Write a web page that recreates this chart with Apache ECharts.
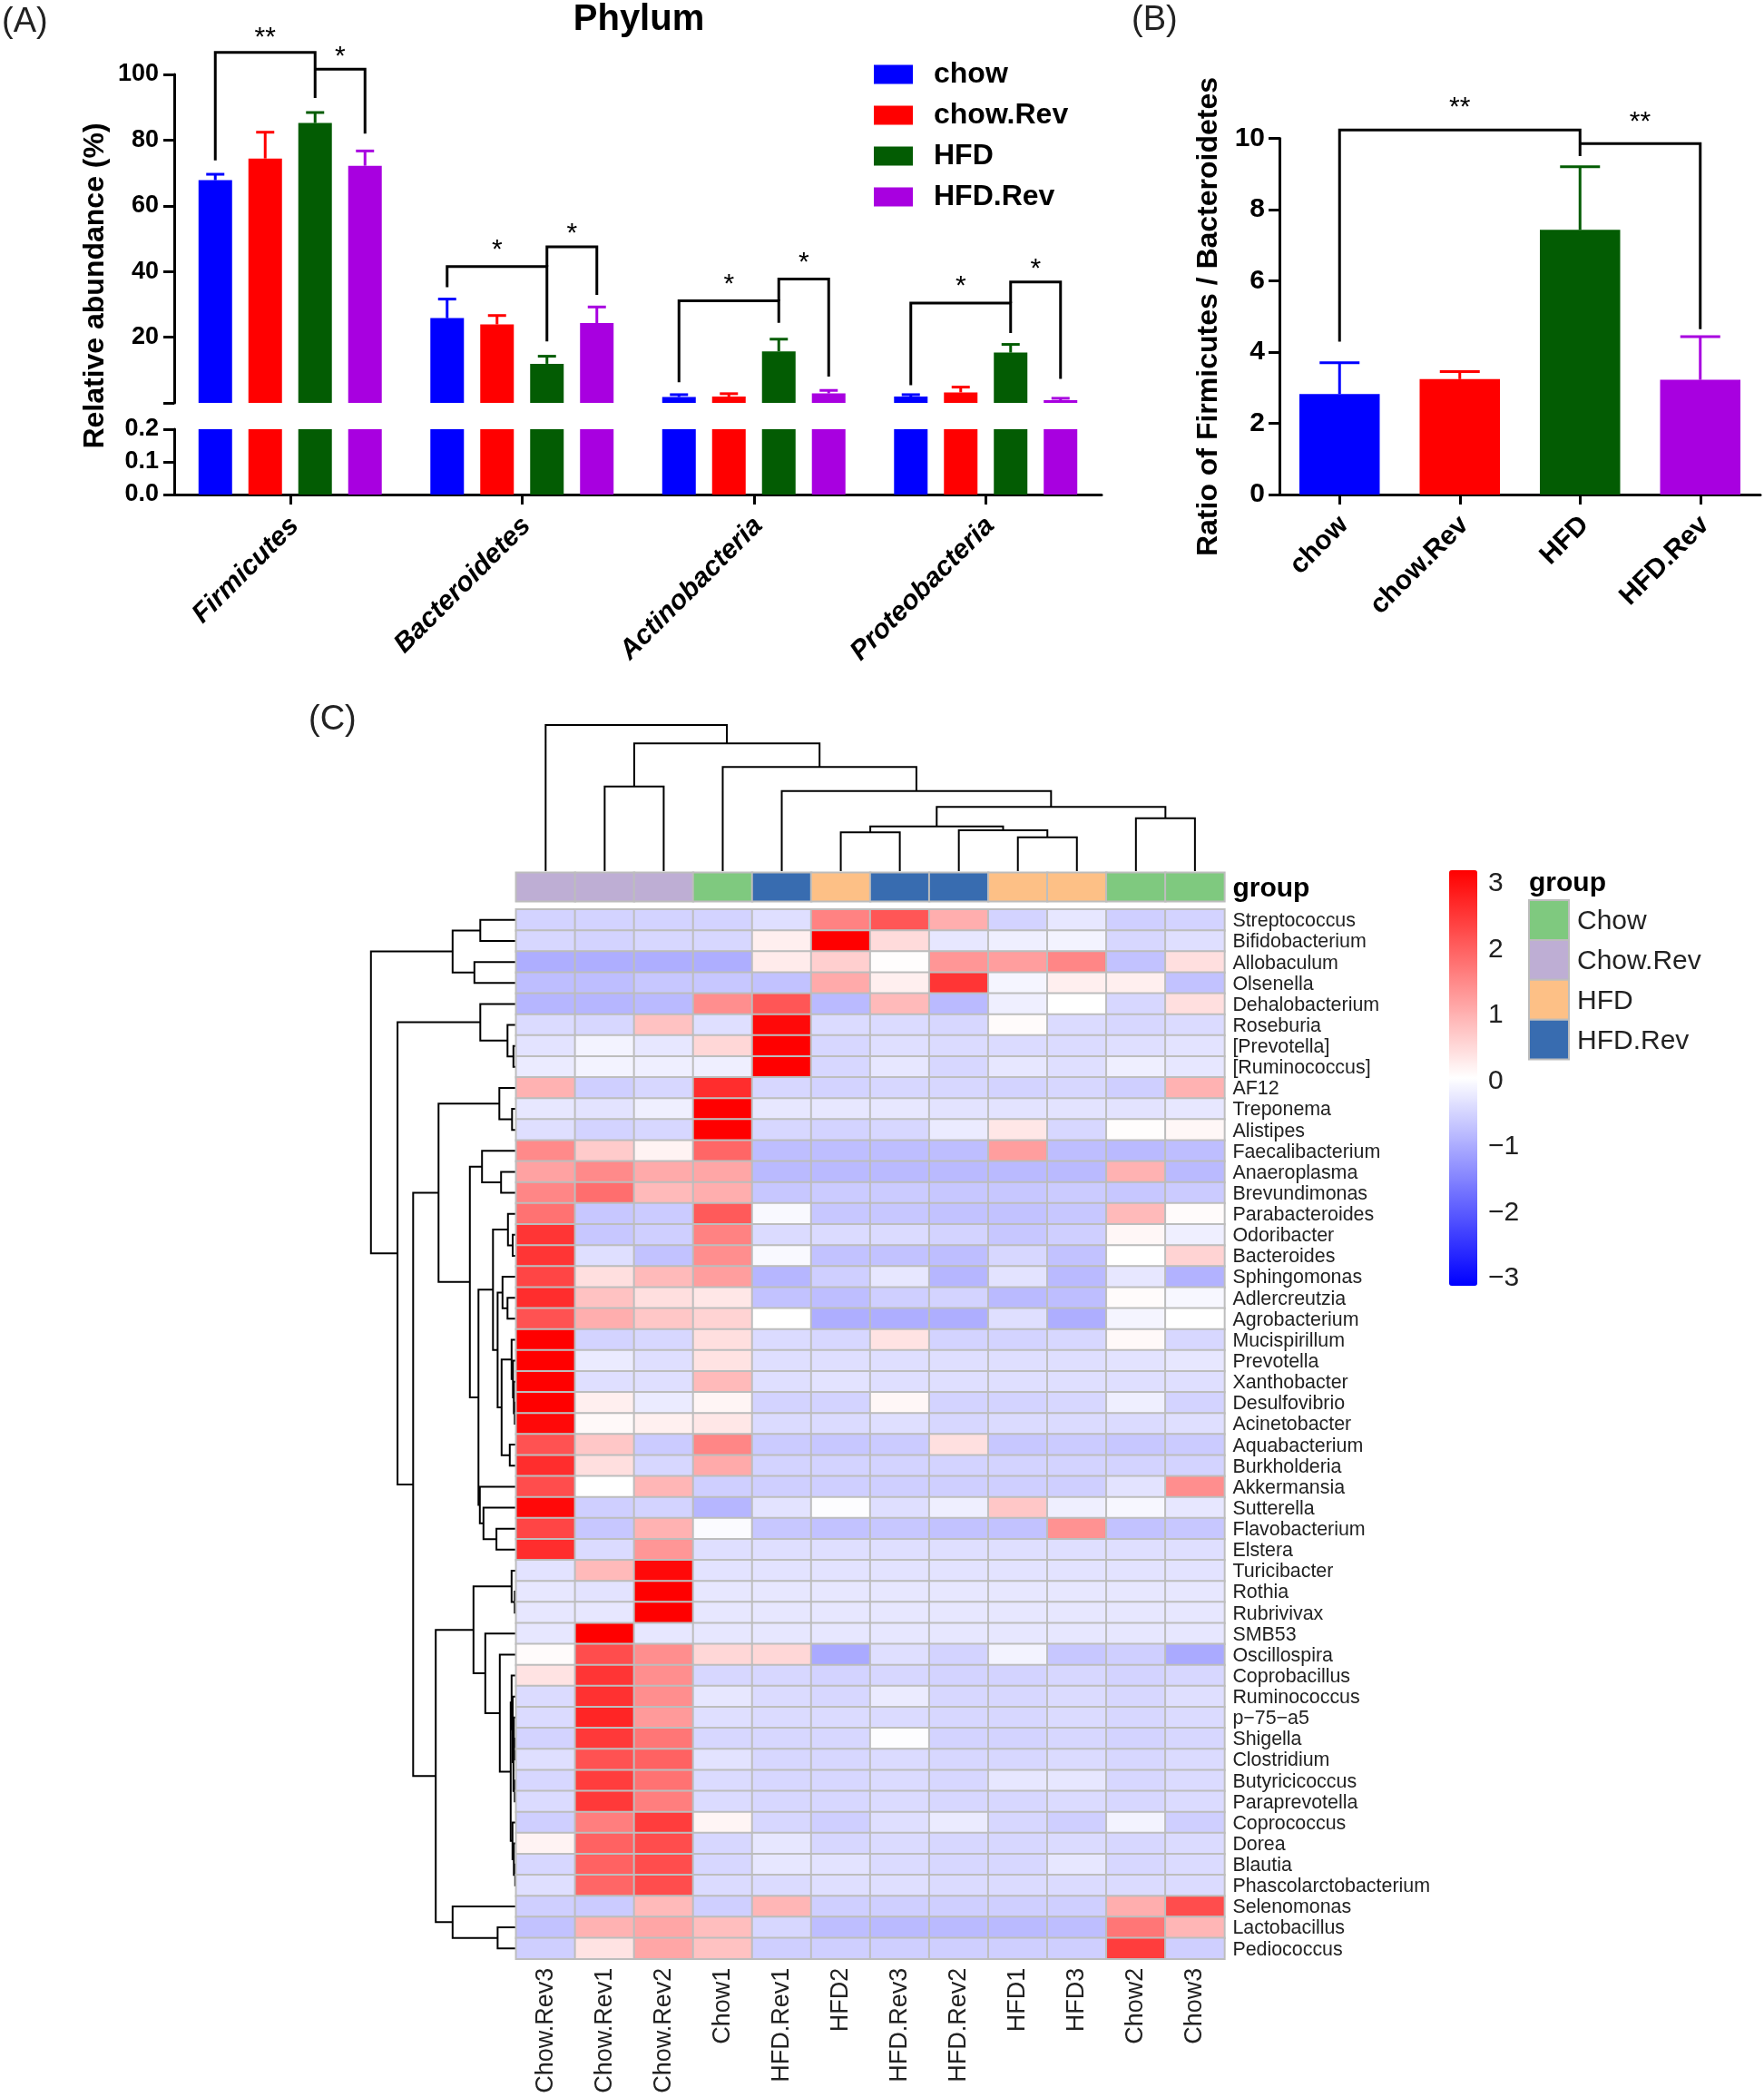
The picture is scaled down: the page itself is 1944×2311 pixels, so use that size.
<!DOCTYPE html>
<html>
<head>
<meta charset="utf-8">
<style>
  html, body { margin: 0; background: #fff; }
  #chart { width: 1944px; height: 2311px; }
</style>
</head>
<body>
<div id="chart"></div>
<script src="https://cdn.jsdelivr.net/npm/echarts@6/dist/echarts.min.js"></script>
<script>
// panel A
const phyla = ['Firmicutes', 'Bacteroidetes', 'Actinobacteria', 'Proteobacteria']
const dietGroups = ['chow', 'chow.Rev', 'HFD', 'HFD.Rev']
const dietColors = ['#0000ff', '#ff0000', '#035c03', '#a800e0']
const chowMean = [67.8, 25.8, 1.8, 1.9]
const chowErr = [69.6, 31.6, 2.5, 2.5]
const chowRevMean = [74.4, 23.9, 1.9, 3.2]
const chowRevErr = [82.4, 26.6, 2.8, 4.8]
const hfdMean = [85.2, 11.9, 15.7, 15.3]
const hfdErr = [88.4, 14.2, 19.4, 17.8]
const hfdRevMean = [72.2, 24.3, 2.9, 0.8]
const hfdRevErr = [76.7, 29.2, 3.8, 1.4]
// cat, left bar, right bar, left end, right end, top, stars, stars y
const bracketsA = [
  [0, 0, 2, 73.8, 92.8, 106.7, '**', 112.4],
  [0, 2, 3, 101.6, 82, 101.6, '*', 106.7],
  [1, 0, 2, 35.2, 18.7, 41.5, '*', 47.8],
  [1, 2, 3, 41.5, 32.9, 47.5, '*', 52.9],
  [2, 0, 2, 6.3, 24.4, 31.1, '*', 37.5],
  [2, 2, 3, 31.1, 8, 37.7, '*', 44],
  [3, 0, 2, 5.4, 21.3, 30.4, '*', 36.7],
  [3, 2, 3, 30.4, 7.3, 36.8, '*', 42.2]
]

// panel B
const ratioMean = [2.82, 3.24, 7.43, 3.22]
const ratioErr = [3.7, 3.45, 9.2, 4.43]
const bracketsB = [
  [0, 0, 2, 4.29, 9.5, 10.23, '**', 10.95],
  [0, 2, 3, 9.85, 4.64, 9.85, '**', 10.56]
]

// panel C
const samples = ['Chow.Rev3', 'Chow.Rev1', 'Chow.Rev2', 'Chow1', 'HFD.Rev1', 'HFD2', 'HFD.Rev3', 'HFD.Rev2', 'HFD1', 'HFD3', 'Chow2', 'Chow3']
const sampleGroups = ['Chow.Rev', 'Chow.Rev', 'Chow.Rev', 'Chow', 'HFD.Rev', 'HFD', 'HFD.Rev', 'HFD.Rev', 'HFD', 'HFD', 'Chow', 'Chow']
const groupNames = ['Chow', 'Chow.Rev', 'HFD', 'HFD.Rev']
const groupColors = ['#7fc97f', '#beaed4', '#fdc086', '#386cb0']
const colorbarTicks = [-3, -2, -1, 0, 1, 2, 3]
const genera = ['Streptococcus', 'Bifidobacterium', 'Allobaculum', 'Olsenella', 'Dehalobacterium', 'Roseburia', '[Prevotella]', '[Ruminococcus]', 'AF12', 'Treponema', 'Alistipes', 'Faecalibacterium', 'Anaeroplasma', 'Brevundimonas', 'Parabacteroides', 'Odoribacter', 'Bacteroides', 'Sphingomonas', 'Adlercreutzia', 'Agrobacterium', 'Mucispirillum', 'Prevotella', 'Xanthobacter', 'Desulfovibrio', 'Acinetobacter', 'Aquabacterium', 'Burkholderia', 'Akkermansia', 'Sutterella', 'Flavobacterium', 'Elstera', 'Turicibacter', 'Rothia', 'Rubrivivax', 'SMB53', 'Oscillospira', 'Coprobacillus', 'Ruminococcus', 'p\u221275\u2212a5', 'Shigella', 'Clostridium', 'Butyricicoccus', 'Paraprevotella', 'Coprococcus', 'Dorea', 'Blautia', 'Phascolarctobacterium', 'Selenomonas', 'Lactobacillus', 'Pediococcus']
const heatRows = [
  [-0.55, -0.55, -0.55, -0.55, -0.4, 1.55, 2.1, 1.0, -0.55, -0.3, -0.6, -0.55],
  [-0.5, -0.55, -0.5, -0.5, 0.2, 3.16, 0.45, -0.3, -0.2, -0.15, -0.5, -0.4],
  [-1.0, -1.0, -1.0, -1.0, 0.25, 0.6, 0.02, 1.3, 1.2, 1.5, -0.75, 0.4],
  [-0.8, -0.8, -0.7, -0.7, -0.75, 1.05, 0.2, 2.5, -0.12, 0.2, 0.2, -0.75],
  [-0.9, -0.9, -0.85, 1.4, 2.1, -0.85, 0.85, -0.85, -0.2, 0.0, -0.5, 0.4],
  [-0.45, -0.5, 0.75, -0.4, 3.05, -0.45, -0.45, -0.5, 0.05, -0.45, -0.5, -0.45],
  [-0.35, -0.15, -0.3, 0.5, 3.16, -0.5, -0.4, -0.45, -0.45, -0.45, -0.4, -0.35],
  [-0.25, -0.15, -0.2, -0.2, 3.16, -0.5, -0.3, -0.5, -0.3, -0.4, -0.2, -0.3],
  [0.95, -0.6, -0.5, 2.6, -0.5, -0.55, -0.5, -0.5, -0.55, -0.5, -0.6, 0.95],
  [-0.3, -0.35, -0.2, 3.16, -0.3, -0.3, -0.3, -0.35, -0.35, -0.35, -0.35, -0.3],
  [-0.4, -0.55, -0.5, 3.16, -0.5, -0.55, -0.5, -0.25, 0.3, -0.5, 0.03, 0.1],
  [1.45, 0.65, 0.15, 1.9, -0.8, -0.8, -0.8, -0.8, 1.2, -0.8, -0.85, -0.8],
  [1.15, 1.45, 1.05, 1.1, -0.85, -0.85, -0.85, -0.85, -0.85, -0.85, 0.95, -0.85],
  [1.5, 1.8, 0.85, 1.0, -0.7, -0.65, -0.65, -0.7, -0.7, -0.65, -0.7, -0.65],
  [1.75, -0.7, -0.65, 2.05, -0.08, -0.7, -0.7, -0.75, -0.75, -0.7, 0.85, 0.05],
  [2.5, -0.7, -0.6, 1.55, -0.45, -0.45, -0.45, -0.55, -0.7, -0.6, 0.1, -0.2],
  [2.5, -0.4, -0.75, 1.4, -0.08, -0.75, -0.75, -0.8, -0.5, -0.75, 0.0, 0.55],
  [2.3, 0.4, 0.85, 1.2, -0.9, -0.6, -0.3, -0.9, -0.35, -0.85, -0.3, -0.95],
  [2.6, 0.75, 0.4, 0.3, -0.75, -0.8, -0.6, -0.55, -0.85, -0.8, 0.05, -0.1],
  [2.15, 1.0, 0.7, 0.55, 0.0, -1.0, -1.0, -1.0, -0.4, -1.0, -0.12, 0.0],
  [3.16, -0.55, -0.5, 0.4, -0.45, -0.5, 0.35, -0.55, -0.55, -0.5, 0.08, -0.5],
  [3.16, -0.25, -0.4, 0.35, -0.4, -0.4, -0.4, -0.4, -0.4, -0.4, -0.35, -0.3],
  [3.16, -0.4, -0.4, 0.85, -0.4, -0.35, -0.4, -0.4, -0.4, -0.4, -0.4, -0.4],
  [3.16, 0.2, -0.25, 0.12, -0.55, -0.55, 0.1, -0.55, -0.55, -0.5, -0.2, -0.55],
  [3.05, 0.08, 0.18, 0.3, -0.45, -0.45, -0.4, -0.5, -0.45, -0.45, -0.45, -0.4],
  [2.15, 0.7, -0.65, 1.5, -0.65, -0.7, -0.65, 0.38, -0.7, -0.65, -0.7, -0.65],
  [2.6, 0.4, -0.5, 1.05, -0.55, -0.55, -0.55, -0.55, -0.55, -0.55, -0.55, -0.55],
  [2.2, 0.0, 0.9, -0.6, -0.6, -0.6, -0.6, -0.6, -0.6, -0.6, -0.35, 1.4],
  [3.05, -0.6, -0.55, -0.9, -0.35, -0.03, -0.4, -0.2, 0.7, -0.2, -0.1, -0.3],
  [2.3, -0.7, 0.95, -0.05, -0.7, -0.75, -0.7, -0.75, -0.75, 1.35, -0.75, -0.7],
  [2.6, -0.45, 1.3, -0.4, -0.4, -0.4, -0.4, -0.4, -0.4, -0.4, -0.4, -0.4],
  [-0.35, 0.85, 3.05, -0.35, -0.35, -0.35, -0.35, -0.35, -0.35, -0.35, -0.35, -0.35],
  [-0.3, -0.35, 3.16, -0.3, -0.3, -0.3, -0.3, -0.3, -0.3, -0.3, -0.3, -0.3],
  [-0.3, -0.3, 3.16, -0.3, -0.3, -0.3, -0.3, -0.3, -0.3, -0.3, -0.3, -0.3],
  [-0.3, 3.16, -0.3, -0.3, -0.3, -0.3, -0.3, -0.3, -0.3, -0.3, -0.3, -0.3],
  [0.05, 2.2, 1.4, 0.5, 0.5, -1.05, -0.4, -0.55, -0.15, -0.7, -0.6, -1.05],
  [0.35, 2.5, 1.4, -0.5, -0.5, -0.55, -0.5, -0.55, -0.55, -0.5, -0.55, -0.5],
  [-0.45, 2.55, 1.4, -0.3, -0.45, -0.5, -0.25, -0.5, -0.5, -0.45, -0.5, -0.4],
  [-0.45, 2.7, 1.25, -0.4, -0.45, -0.45, -0.45, -0.5, -0.5, -0.45, -0.5, -0.45],
  [-0.55, 2.45, 1.7, -0.5, -0.5, -0.5, -0.02, -0.55, -0.55, -0.5, -0.55, -0.5],
  [-0.4, 2.15, 1.95, -0.35, -0.5, -0.5, -0.45, -0.5, -0.5, -0.45, -0.5, -0.45],
  [-0.5, 2.4, 1.75, -0.45, -0.5, -0.5, -0.45, -0.5, -0.3, -0.3, -0.5, -0.45],
  [-0.45, 2.45, 1.6, -0.45, -0.5, -0.5, -0.45, -0.5, -0.5, -0.45, -0.5, -0.45],
  [-0.6, 1.6, 2.4, 0.12, -0.5, -0.6, -0.4, -0.25, -0.5, -0.6, -0.15, -0.6],
  [0.15, 1.95, 2.2, -0.5, -0.3, -0.5, -0.45, -0.5, -0.5, -0.45, -0.5, -0.45],
  [-0.5, 1.95, 2.2, -0.5, -0.3, -0.35, -0.45, -0.5, -0.5, -0.3, -0.5, -0.45],
  [-0.4, 1.9, 2.2, -0.45, -0.45, -0.4, -0.4, -0.45, -0.45, -0.45, -0.45, -0.45],
  [-0.6, -0.65, 0.85, -0.6, 0.9, -0.6, -0.6, -0.6, -0.6, -0.6, 1.0, 2.2],
  [-0.75, 0.95, 1.1, 0.8, -0.5, -0.8, -0.85, -0.85, -0.85, -0.8, 1.7, 0.9],
  [-0.6, 0.35, 1.1, 0.75, -0.6, -0.6, -0.6, -0.6, -0.6, -0.6, 2.4, -0.6]
]
// dendrograms: a node is a leaf index or [left, right, height]
const sampleTree = [
  0,
  [
    [1, 2, 93.3],
    [3, [4, [[[5, 6, 42.7], [7, [8, 9, 37.3], 45], 49.3], [10, 11, 58.3], 70.7], 88.3], 114.7],
    140.7
  ],
  161
]
const generaTree = [
  [[0, 1, 39.5], [2, 3, 46], 70],
  [
    [4, [5, [6, 7, 3], 9.5], 39.5],
    [
      [[8, [9, 10, 4.5], 18.5], [
        [11, [12, 13, 16.6], 37.6],
        [
          [
            [14, [15, 16, 3.8], 9],
            [
              [17, [18, 19, 9.5], 15],
              [[20, [21, [22, [23, 24, 1.5], 2.5], 3.5], 5], [25, 26, 7], 16],
              20.4
            ],
            25.5
          ],
          [27, [28, [29, 30, 21.7], 36], 40],
          41.5
        ],
        51
      ], 85.5],
      [
        [[31, [32, 33, 1.5], 5], [34, [35, [
          [36, [37, [[38, [39, 40, 1.5], 2.5], [41, 42, 1.5], 3], 3.8], 5],
          [43, [44, [45, 46, 1], 2.5], 4],
          6
        ], 18], 34], 47],
        [47, [48, 49, 20.4], 70],
        88.6
      ],
      113.5
    ],
    130.7
  ],
  160
]

const labelFont = '"Liberation Sans", Arial, sans-serif'
const barStep = 55

function flattenTree(node, rows) {
  if (typeof node === 'number') {
    return { pos: node, h: 0 }
  }
  const l = flattenTree(node[0], rows)
  const r = flattenTree(node[1], rows)
  rows.push([l.pos, l.h, r.pos, r.h, node[2]])
  return { pos: (l.pos + r.pos) / 2, h: node[2] }
}

function dendroSeries(tree, axisIndex, vertical) {
  const rows = []
  flattenTree(tree, rows)
  return {
    type: 'custom',
    xAxisIndex: axisIndex,
    yAxisIndex: axisIndex,
    silent: true,
    data: rows,
    renderItem(params, api) {
      const p = vertical ? (a, h) => api.coord([a, h]) : (a, h) => api.coord([h, a])
      const a = api.value(0)
      const b = api.value(2)
      const h = api.value(4)
      return {
        type: 'polyline',
        shape: { points: [p(a, api.value(1)), p(a, h), p(b, h), p(b, api.value(3))] },
        style: { stroke: '#000', lineWidth: 2, fill: null }
      }
    }
  }
}

function errorSeries(means, errs, axisIndex, colorOf, offset, capWidth) {
  return {
    type: 'custom',
    xAxisIndex: axisIndex,
    yAxisIndex: axisIndex,
    silent: true,
    data: means.map((m, i) => [i, m, errs[i]]),
    renderItem(params, api) {
      const i = params.dataIndex
      const low = api.coord([i, api.value(1)])
      const high = api.coord([i, api.value(2)])
      const x = low[0] + offset
      const style = { stroke: colorOf(i), lineWidth: 3, fill: null }
      return {
        type: 'group',
        children: [
          { type: 'line', shape: { x1: x, y1: low[1], x2: x, y2: high[1] }, style },
          { type: 'line', shape: { x1: x - capWidth / 2, y1: high[1], x2: x + capWidth / 2, y2: high[1] }, style }
        ]
      }
    }
  }
}

function bracketSeries(rows, axisIndex, xAt, starDy) {
  return {
    type: 'custom',
    xAxisIndex: axisIndex,
    yAxisIndex: axisIndex,
    silent: true,
    data: rows.map(r => [r[0], r[5]]),
    renderItem(params, api) {
      const r = rows[params.dataIndex]
      const xl = xAt(api, r, 1)
      const xr = xAt(api, r, 2)
      const y = v => api.coord([0, v])[1]
      return {
        type: 'group',
        children: [
          {
            type: 'polyline',
            shape: { points: [[xl, y(r[3])], [xl, y(r[5])], [xr, y(r[5])], [xr, y(r[4])]] },
            style: { stroke: '#000', lineWidth: 3, fill: null }
          },
          {
            type: 'text',
            style: {
              text: r[6],
              x: (xl + xr) / 2,
              y: y(r[7]) + starDy,
              fill: '#000',
              font: '30px ' + labelFont,
              textAlign: 'center',
              textVerticalAlign: 'middle'
            }
          }
        ]
      }
    }
  }
}

const heatLeft = 568.8
const heatWidth = 780.6
const grid = [
  { left: 192, top: 82, width: 1022, height: 362 },
  { left: 192, top: 473, width: 1022, height: 72 },
  { left: 1410, top: 152.4, width: 530, height: 392.6 },
  { left: heatLeft, top: 799, width: heatWidth, height: 161 },
  { left: heatLeft, top: 961.7, width: heatWidth, height: 31.5 },
  { left: heatLeft, top: 1002.3, width: heatWidth, height: 1156.5 },
  { left: heatLeft - 160, top: 1002.3, width: 160, height: 1156.5 },
  { left: 1597, top: 974, width: 31, height: 435 }
]

const blackLine = { show: true, onZero: false, lineStyle: { color: '#000', width: 3 } }
const blackTick = { show: true, length: 12, lineStyle: { color: '#000', width: 3 } }
const hidden = { show: false }

const xAxis = [
  { gridIndex: 0, type: 'category', data: phyla, show: false },
  {
    gridIndex: 1,
    type: 'category',
    data: phyla,
    axisLine: blackLine,
    axisTick: { ...blackTick, length: 11, alignWithLabel: true },
    axisLabel: { interval: 0, rotate: 45, margin: 25, color: '#000', fontFamily: labelFont, fontSize: 30, fontWeight: 'bold', fontStyle: 'italic', verticalAlign: 'top', lineHeight: 14 }
  },
  {
    gridIndex: 2,
    type: 'category',
    data: dietGroups,
    axisLine: blackLine,
    axisTick: { ...blackTick, length: 11, alignWithLabel: true },
    axisLabel: { interval: 0, rotate: 45, margin: 24, color: '#000', fontFamily: labelFont, fontSize: 30, fontWeight: 'bold', verticalAlign: 'top', lineHeight: 14 }
  },
  { gridIndex: 3, type: 'value', min: -0.5, max: 11.5, show: false },
  { gridIndex: 4, type: 'category', data: samples, show: false },
  {
    gridIndex: 5,
    type: 'category',
    data: samples,
    axisLine: hidden,
    axisTick: hidden,
    axisLabel: { interval: 0, rotate: 90, margin: 10, color: '#222', fontFamily: labelFont, fontSize: 27 }
  },
  { gridIndex: 6, type: 'value', min: 0, max: 160, inverse: true, show: false },
  { gridIndex: 7, type: 'value', min: 0, max: 1, show: false }
]

const yAxis = [
  {
    gridIndex: 0,
    type: 'value',
    min: 0,
    max: 100,
    interval: 20,
    splitLine: hidden,
    axisLine: blackLine,
    axisTick: blackTick,
    axisLabel: { margin: 17, color: '#000', fontFamily: labelFont, fontSize: 27, fontWeight: 'bold', formatter: v => (v === 0 ? '' : v) }
  },
  {
    gridIndex: 1,
    type: 'value',
    min: 0,
    max: 0.2,
    interval: 0.1,
    splitLine: hidden,
    axisLine: blackLine,
    axisTick: blackTick,
    axisLabel: { margin: 17, color: '#000', fontFamily: labelFont, fontSize: 27, fontWeight: 'bold', formatter: v => v.toFixed(1) }
  },
  {
    gridIndex: 2,
    type: 'value',
    min: 0,
    max: 10,
    interval: 2,
    splitLine: hidden,
    axisLine: blackLine,
    axisTick: blackTick,
    axisLabel: { margin: 16, color: '#000', fontFamily: labelFont, fontSize: 30, fontWeight: 'bold' }
  },
  { gridIndex: 3, type: 'value', min: 0, max: 161, show: false },
  {
    gridIndex: 4,
    type: 'category',
    data: ['group'],
    position: 'right',
    axisLine: hidden,
    axisTick: hidden,
    axisLabel: { margin: 9, color: '#000', fontFamily: labelFont, fontSize: 30, fontWeight: 'bold', verticalAlign: 'top', lineHeight: 4 }
  },
  {
    gridIndex: 5,
    type: 'category',
    data: genera,
    inverse: true,
    position: 'right',
    axisLine: hidden,
    axisTick: hidden,
    axisLabel: { interval: 0, margin: 9, color: '#222', fontFamily: labelFont, fontSize: 21.4, verticalAlign: 'top', lineHeight: 3 }
  },
  { gridIndex: 6, type: 'value', min: -0.5, max: 49.5, inverse: true, show: false },
  {
    gridIndex: 7,
    type: 'value',
    min: colorbarTicks[0],
    max: colorbarTicks[colorbarTicks.length - 1],
    interval: 1,
    position: 'right',
    splitLine: hidden,
    axisLine: hidden,
    axisTick: hidden,
    axisLabel: { margin: 12, color: '#222', fontFamily: labelFont, fontSize: 30, formatter: v => String(v).replace('-', '\u2212') }
  }
]

const dietMeans = [chowMean, chowRevMean, hfdMean, hfdRevMean]
const dietErrs = [chowErr, chowRevErr, hfdErr, hfdRevErr]
const series = []

dietGroups.forEach((name, s) => {
  series.push({ type: 'bar', name, xAxisIndex: 0, yAxisIndex: 0, data: dietMeans[s], barWidth: 37, barGap: '48.6%', itemStyle: { color: dietColors[s] } })
})
dietGroups.forEach((name, s) => {
  series.push({ type: 'bar', name, xAxisIndex: 1, yAxisIndex: 1, data: dietMeans[s], barWidth: 37, barGap: '48.6%', itemStyle: { color: dietColors[s] } })
})
dietGroups.forEach((name, s) => {
  series.push(errorSeries(dietMeans[s], dietErrs[s], 0, () => dietColors[s], (s - 1.5) * barStep, 20))
})
series.push(bracketSeries(bracketsA, 0, (api, r, k) => api.coord([r[0], 0])[0] + (r[k] - 1.5) * barStep, 5))

series.push({
  type: 'bar',
  xAxisIndex: 2,
  yAxisIndex: 2,
  barWidth: 88.5,
  data: ratioMean.map((v, i) => ({ value: v, itemStyle: { color: dietColors[i] } }))
})
series.push(errorSeries(ratioMean, ratioErr, 2, i => dietColors[i], 0, 44))
series.push(bracketSeries(bracketsB, 2, (api, r, k) => api.coord([r[k], 0])[0], 4))

series.push(dendroSeries(sampleTree, 3, true))
series.push(dendroSeries(generaTree, 6, false))

const annotationIndex = series.length
series.push({
  type: 'heatmap',
  xAxisIndex: 4,
  yAxisIndex: 4,
  data: sampleGroups.map((g, c) => [c, 0, groupNames.indexOf(g)]),
  itemStyle: { borderColor: '#bdbdbd', borderWidth: 2 }
})
const heatIndex = series.length
series.push({
  type: 'heatmap',
  xAxisIndex: 5,
  yAxisIndex: 5,
  data: heatRows.flatMap((row, r) => row.map((v, c) => [c, r, v])),
  itemStyle: { borderColor: '#bdbdbd', borderWidth: 2 }
})

const graphic = [
  { type: 'text', x: 2, y: 25, style: { text: '(A)', font: '38px ' + labelFont, fill: '#222', textVerticalAlign: 'middle' } },
  { type: 'text', x: 1247, y: 23, style: { text: '(B)', font: '38px ' + labelFont, fill: '#222', textVerticalAlign: 'middle' } },
  { type: 'text', x: 340, y: 794, style: { text: '(C)', font: '38px ' + labelFont, fill: '#222', textVerticalAlign: 'middle' } },
  { type: 'text', x: 704, y: 22, style: { text: 'Phylum', font: 'bold 40px ' + labelFont, fill: '#000', textAlign: 'center', textVerticalAlign: 'middle' } },
  { type: 'text', x: 105, y: 315, rotation: Math.PI / 2, style: { text: 'Relative abundance (%)', font: 'bold 32px ' + labelFont, fill: '#000', textAlign: 'center', textVerticalAlign: 'middle' } },
  { type: 'text', x: 1332, y: 349, rotation: Math.PI / 2, style: { text: 'Ratio of Firmicutes / Bacteroidetes', font: 'bold 32px ' + labelFont, fill: '#000', textAlign: 'center', textVerticalAlign: 'middle' } },
  { type: 'text', x: 1685, y: 974, style: { text: 'group', font: 'bold 30px ' + labelFont, fill: '#000', textVerticalAlign: 'middle' } }
]
groupNames.forEach((name, i) => {
  graphic.push({ type: 'rect', shape: { x: 1685, y: 992 + i * 43.9, width: 44, height: 43.9 }, style: { fill: groupColors[i], stroke: '#bdbdbd', lineWidth: 2 } })
  graphic.push({ type: 'text', x: 1738, y: 1016 + i * 43.9, style: { text: name, font: '30px ' + labelFont, fill: '#222', textVerticalAlign: 'middle' } })
})

const chart = echarts.init(document.getElementById('chart'), null, { renderer: 'canvas' })
chart.setOption({
  animation: false,
  backgroundColor: '#fff',
  textStyle: { fontFamily: labelFont },
  grid,
  xAxis,
  yAxis,
  series,
  graphic,
  legend: {
    data: dietGroups,
    orient: 'vertical',
    left: 963,
    top: 66,
    padding: 0,
    icon: 'rect',
    itemWidth: 43,
    itemHeight: 21,
    itemGap: 13,
    selectedMode: false,
    textStyle: { color: '#000', fontFamily: labelFont, fontSize: 32, fontWeight: 'bold', padding: [0, 0, 0, 18] }
  },
  visualMap: [
    {
      type: 'continuous',
      seriesIndex: heatIndex,
      min: -3.16,
      max: 3.16,
      dimension: 2,
      calculable: false,
      hoverLink: false,
      left: 1597,
      top: 959,
      padding: 0,
      itemWidth: 31,
      itemHeight: 458,
      inRange: { color: ['#0000ff', '#ffffff', '#ff0000'] }
    },
    {
      type: 'piecewise',
      show: false,
      seriesIndex: annotationIndex,
      dimension: 2,
      pieces: groupColors.map((color, i) => ({ value: i, color }))
    }
  ]
})
</script>
</body>
</html>
